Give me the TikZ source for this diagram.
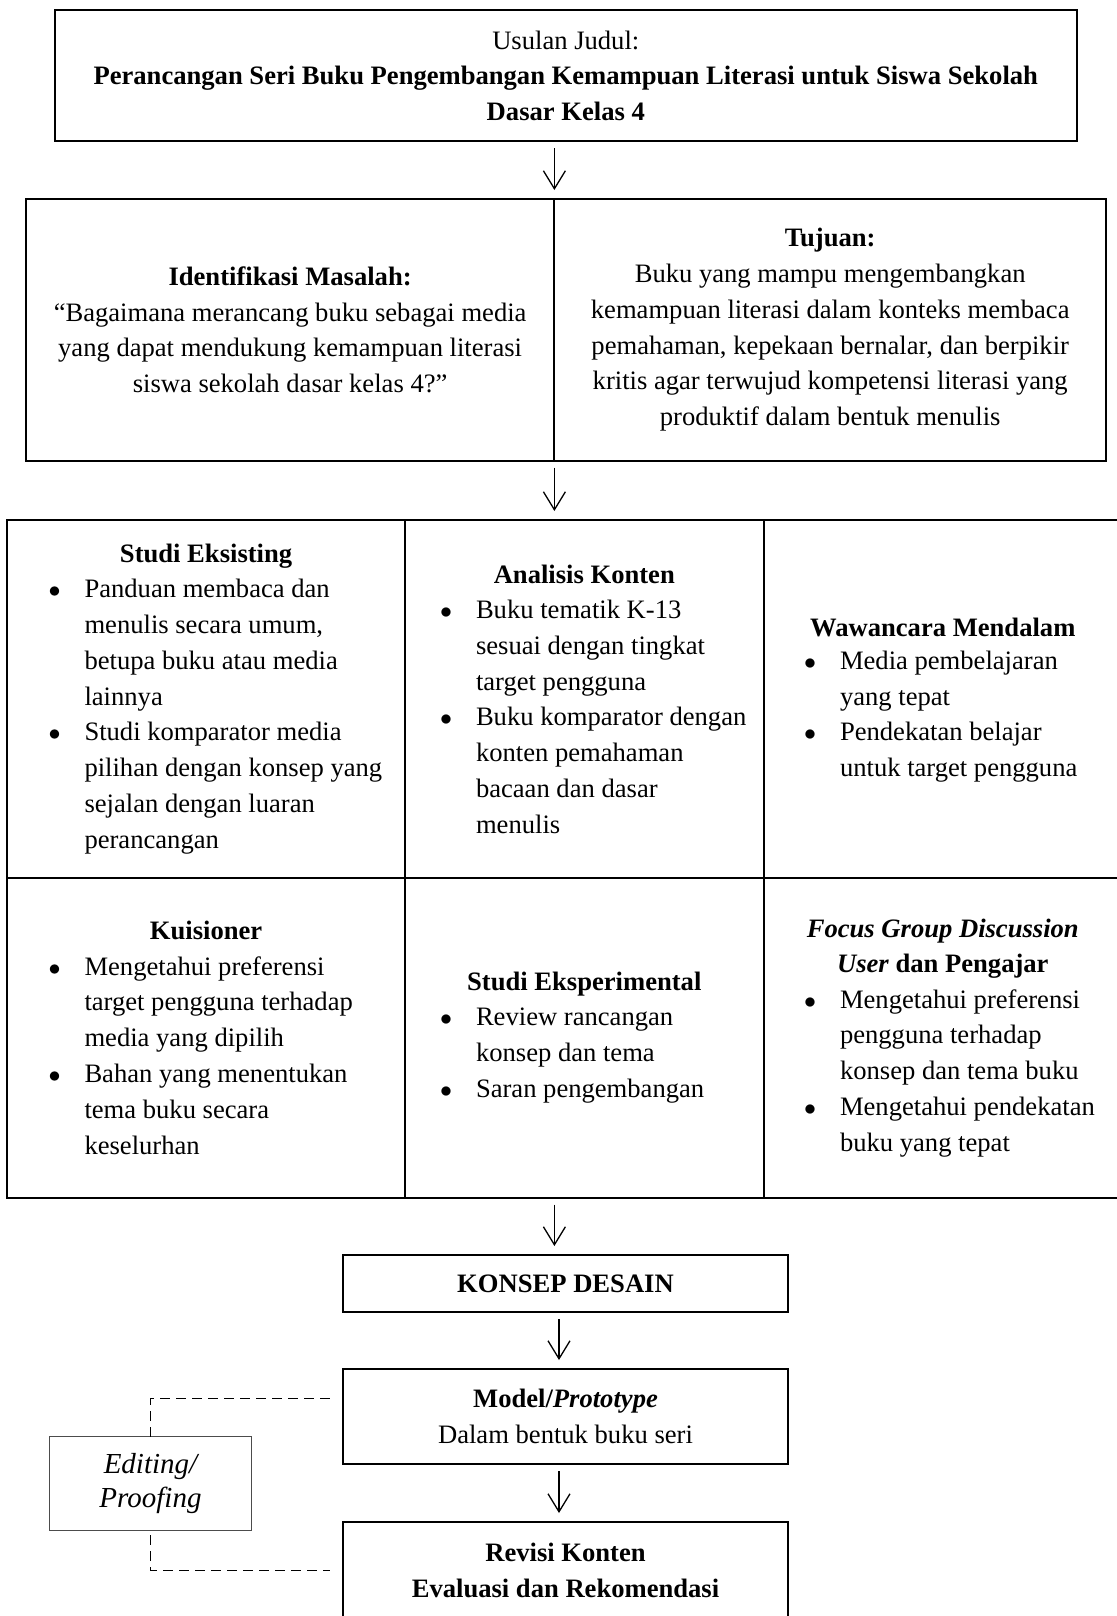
\documentclass[tikz,border=0pt]{standalone}
\usepackage{fontspec}
\setmainfont{Liberation Serif}
\usepackage{tikz}
\usetikzlibrary{positioning}
\usetikzlibrary{calc}
\usetikzlibrary{arrows.meta}

\newcommand{\bul}{\llap{{\fontsize{11.5pt}{0pt}\selectfont$\bullet$}\hspace{12pt}}}

\begin{document}
\begin{tikzpicture}[x=0.5pt,y=-0.5pt]
	\tikzstyle{every node}=[inner sep=0pt,outer sep=0pt,font=\fontsize{13.3pt}{17.9pt}\selectfont]
	\tikzstyle{box}=[draw,line width=1pt,align=center]
	\tikzstyle{head}=[font=\fontsize{13.3pt}{17.9pt}\selectfont\bfseries,align=center]
	\tikzstyle{items}=[align=left,anchor=west]
	\tikzstyle{arr}=[-{Straight Barb[length=9pt,width=11pt]},line width=0.65pt,shorten <=3.5pt,shorten >=4.5pt]
	\tikzstyle{link}=[dash pattern=on 4.8pt off 3.2pt,line width=0.9pt]

	\path[use as bounding box,fill=white] (0,0) rectangle (1116,1616);

	% judul
	\node[box,minimum width=511.2pt,minimum height=65.5pt] (usulan) at (565.8,75.8)
		{Usulan Judul:\\ \textbf{Perancangan Seri Buku Pengembangan Kemampuan Literasi untuk Siswa Sekolah}\\ \textbf{Dasar Kelas 4}};

	% masalah dan tujuan
	\node[box,minimum width=264.3pt,minimum height=130.8pt] (masalah) at (290.1,329.8)
		{\textbf{Identifikasi Masalah:}\\ “Bagaimana merancang buku sebagai media\\ yang dapat mendukung kemampuan literasi\\ siswa sekolah dasar kelas 4?”};
	\node[box,minimum width=275.8pt,minimum height=130.8pt,right=0pt of masalah] (tujuan)
		{\textbf{Tujuan:}\\ Buku yang mampu mengembangkan\\ kemampuan literasi dalam konteks membaca\\ pemahaman, kepekaan bernalar, dan berpikir\\ kritis agar terwujud kompetensi literasi yang\\ produktif dalam bentuk menulis};

	% tabel metode
	\node[box,minimum width=198.9pt,minimum height=178.85pt] (eksisting) at (206.1,698.85) {};
	\node[box,minimum width=179.3pt,minimum height=178.85pt,right=0pt of eksisting] (konten) {};
	\node[box,minimum width=179.2pt,minimum height=178.85pt,right=0pt of konten] (wawancara) {};
	\node[box,minimum width=198.9pt,minimum height=159.9pt,below=0pt of eksisting] (kuisioner) {};
	\node[box,minimum width=179.3pt,minimum height=159.9pt,below=0pt of konten] (eksperimen) {};
	\node[box,minimum width=179.2pt,minimum height=159.9pt,below=0pt of wawancara] (fgd) {};

	\node[head] (eksistingH) at (206.1,556.4) {Studi Eksisting};
	\node[items] (eksistingL) at (84.5,716.7)
		{\bul Panduan membaca dan\\ menulis secara umum,\\ betupa buku atau media\\ lainnya\\
		 \bul Studi komparator media\\ pilihan dengan konsep yang\\ sejalan dengan luaran\\ perancangan};

	\node[head] (kontenH) at (584.3,574.3) {Analisis Konten};
	\node[items] (kontenL) at (476,716.7)
		{\bul Buku tematik K-13\\ sesuai dengan tingkat\\ target pengguna\\
		 \bul Buku komparator dengan\\ konten pemahaman\\ bacaan dan dasar\\ menulis};

	\node[head] (wawancaraH) at (942.8,627.7) {Wawancara Mendalam};
	\node[items] (wawancaraL) at (840,716.7)
		{\bul Media pembelajaran\\ yang tepat\\
		 \bul Pendekatan belajar\\ untuk target pengguna};

	\node[head] (kuisionerH) at (206.1,930.8) {Kuisioner};
	\node[items] (kuisionerL) at (84.5,1055.4)
		{\bul Mengetahui preferensi\\ target pengguna terhadap\\ media yang dipilih\\
		 \bul Bahan yang menentukan\\ tema buku secara\\ keselurhan};

	\node[head] (eksperimenH) at (584.3,984.2) {Studi Eksperimental};
	\node[items] (eksperimenL) at (476,1055.4)
		{\bul Review rancangan\\ konsep dan tema\\
		 \bul Saran pengembangan};

	\node[head] (fgdH) at (942.8,948.6) {\textit{Focus Group Discussion}\\ \textit{User} dan Pengajar};
	\node[items] (fgdL) at (840,1073.2)
		{\bul Mengetahui preferensi\\ pengguna terhadap\\ konsep dan tema buku\\
		 \bul Mengetahui pendekatan\\ buku yang tepat};

	% alur desain
	\node[box,minimum width=222.5pt,minimum height=28.5pt] (konsep) at (565.5,1283.5) {\textbf{KONSEP DESAIN}};
	\node[box,minimum width=222.5pt,minimum height=47.5pt] (model) at (565.5,1416.5)
		{\textbf{Model/\textit{Prototype}}\\ Dalam bentuk buku seri};
	\node[box,minimum width=222.5pt,minimum height=48.5pt] (revisi) at (565.5,1570.5)
		{\textbf{Revisi Konten}\\ \textbf{Evaluasi dan Rekomendasi}};

	\node[draw=black!70,line width=0.5pt,minimum width=101pt,minimum height=46.9pt,align=center,
		font=\fontsize{14.5pt}{17pt}\selectfont\itshape] (editing) at (150.5,1483.5) {Editing/\\ Proofing};

	\coordinate (modelIn) at (329.8,1398.4);
	\coordinate (revisiIn) at (329.8,1570.5);

	\draw[arr] (usulan.south -| masalah.north east) -- (masalah.north east);
	\draw[arr] (masalah.south east) -- (masalah.south east |- konten.north);
	\draw[arr] (masalah.south east |- eksperimen.south) -- (masalah.south east |- konsep.north);
	\draw[arr] ([xshift=-3.25pt]konsep.south) -- ([xshift=-3.25pt]model.north);
	\draw[arr] ([xshift=-3.25pt]model.south) -- ([xshift=-3.25pt]revisi.north);

	\draw[link] (editing.north) |- (modelIn);
	\draw[link] ([yshift=-2.5pt]editing.south) |- (revisiIn);

\end{tikzpicture}
\end{document}
